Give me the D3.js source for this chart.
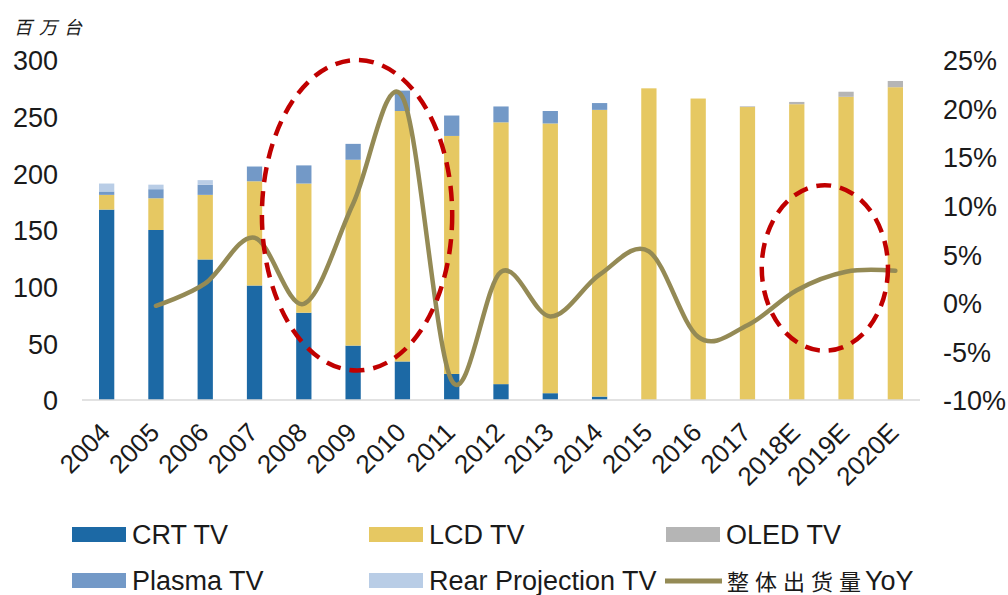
<!DOCTYPE html>
<html>
  <head>
    <meta charset="UTF-8"/>
    <script src="https://d3js.org/d3.v7.min.js"></script>
    <style>
      body{
        margin: 0;
        background-color: white;
      }
      text{
        font-family: "Liberation Sans", Arial, sans-serif;
        fill: #1a1a1a;
      }
      .cjk{
        font-family: "Noto Sans CJK SC", sans-serif;
      }
    </style>
  </head>
  <body>
    <script>
      // data
      const years = ['2004','2005','2006','2007','2008','2009','2010','2011','2012','2013','2014','2015','2016','2017','2018E','2019E','2020E'];
      const crt        = [168, 150, 124, 101, 77, 48, 34, 23, 14, 6, 3, 0, 0, 0, 0, 0, 0];
      const lcd        = [13, 28, 57, 92, 114, 164, 221, 210, 231, 238, 253, 275, 266, 258.5, 261, 267.5, 276];
      const oled       = [0, 0, 0, 0, 0, 0, 0, 0, 0, 0, 0, 0, 0, 0.6, 2, 4.5, 5.5];
      const plasma     = [3, 8, 9, 13, 16, 14, 18, 18, 14, 11, 6, 0, 0, 0, 0, 0, 0];
      const rearProj   = [7, 4, 4, 0.5, 0, 0, 0, 0, 0, 0, 0, 0, 0, 0, 0, 0, 0];
      // YoY starts at 2005
      const yoyYears   = years.slice(1);
      const yoy        = [-0.3, 2.0, 6.7, -0.1, 10.2, 21.2, -8.0, 3.2, -1.4, 2.9, 5.3, -3.5, -2.3, 1.3, 3.2, 3.3];
      const leftTicks  = [0, 50, 100, 150, 200, 250, 300];
      const rightTicks = [-10, -5, 0, 5, 10, 15, 20, 25];

      const seriesNames = ['CRT TV', 'LCD TV', 'OLED TV', 'Plasma TV', 'Rear Projection TV'];
      const seriesVals  = [crt, lcd, oled, plasma, rearProj];
      const colors = {
        'CRT TV': '#1c69a5',
        'LCD TV': '#e6c862',
        'OLED TV': '#b5b5b5',
        'Plasma TV': '#7399c7',
        'Rear Projection TV': '#b9cde6'
      };
      const lineColor = '#948a55';
      const red = '#c00000';

      const width = 1008, height = 595;
      const plotLeft = 82, plotRight = 920, plotTop = 60, plotBottom = 400;

      const svg = d3.select('body').append('svg')
                    .attr('width', width)
                    .attr('height', height);

      const x = d3.scaleBand()
                  .domain(years)
                  .range([plotLeft, plotRight])
                  .paddingInner(0.69)
                  .paddingOuter(0.345);
      const xc = (d) => x(d) + x.bandwidth() / 2;
      // index scale, used for the annotation rings
      const xi = d3.scaleLinear().domain([0, years.length - 1]).range([xc(years[0]), xc(years[years.length - 1])]);

      const yL = d3.scaleLinear().domain([0, 300]).range([plotBottom, plotTop]);
      const yR = d3.scaleLinear().domain([-10, 25]).range([plotBottom, plotTop]);

      // stack order from bottom: CRT, LCD, OLED, Plasma, Rear projection
      const table = years.map((y, i) => {
        const row = {year: y};
        seriesNames.forEach((s, j) => row[s] = seriesVals[j][i]);
        return row;
      });
      const stacked = d3.stack().keys(seriesNames)(table);

      svg.append('g')
         .selectAll('g')
         .data(stacked)
         .enter()
         .append('g')
         .attr('fill', (d) => colors[d.key])
         .selectAll('rect')
         .data((d) => d)
         .enter()
         .append('rect')
         .attr('x', (d) => x(d.data.year))
         .attr('width', x.bandwidth())
         .attr('y', (d) => yL(d[1]))
         .attr('height', (d) => yL(d[0]) - yL(d[1]));

      // x axis line
      svg.append('line')
         .attr('x1', plotLeft).attr('x2', plotRight)
         .attr('y1', plotBottom).attr('y2', plotBottom)
         .attr('stroke', '#d9d9d9')
         .attr('stroke-width', 1.5);

      // left axis
      const leftAxis = svg.append('g')
         .attr('transform', 'translate(' + (plotLeft - 20) + ',0)')
         .call(d3.axisLeft(yL).tickValues(leftTicks).tickSize(0).tickPadding(4));
      leftAxis.select('.domain').remove();
      leftAxis.selectAll('text')
         .style('font-size', '27px')
         .attr('dy', '0.36em')
         .style('fill', '#1a1a1a');

      // right axis
      const rightAxis = svg.append('g')
         .attr('transform', 'translate(' + (plotRight + 20) + ',0)')
         .call(d3.axisRight(yR).tickValues(rightTicks).tickSize(0).tickPadding(3).tickFormat((d) => d + '%'));
      rightAxis.select('.domain').remove();
      rightAxis.selectAll('text')
         .style('font-size', '27px')
         .attr('dy', '0.36em')
         .style('fill', '#1a1a1a');

      // category labels, rotated
      svg.append('g')
         .selectAll('text')
         .data(years)
         .enter()
         .append('text')
         .attr('transform', (d) => 'translate(' + (xc(d) + 5) + ',' + 434 + ') rotate(-45)')
         .attr('text-anchor', 'end')
         .style('font-size', '26px')
         .text((d) => d);

      // unit label
      svg.append('text')
         .attr('class', 'cjk')
         .attr('x', 14)
         .attr('y', 34)
         .style('font-size', '18px')
         .style('letter-spacing', '7px')
         .style('font-style', 'italic')
         .text('百万台');

      // YoY line
      const line = d3.line()
                     .x((d, i) => xc(yoyYears[i]))
                     .y((d) => yR(d))
                     .curve(d3.curveCatmullRom.alpha(0));
      svg.append('path')
         .datum(yoy)
         .attr('d', line)
         .attr('fill', 'none')
         .attr('stroke', lineColor)
         .attr('stroke-width', 4.5)
         .attr('stroke-linecap', 'round');

      // red dashed rings
      const rings = [
        {cx: xi(5.08), cy: yL(163), rx: xi(1.93) - xi(0), ry: yL(0) - yL(137)},
        {cx: xi(14.57), cy: yL(116.5), rx: xi(1.28) - xi(0), ry: yL(0) - yL(73)}
      ];
      svg.append('g')
         .selectAll('ellipse')
         .data(rings)
         .enter()
         .append('ellipse')
         .attr('cx', (d) => d.cx)
         .attr('cy', (d) => d.cy)
         .attr('rx', (d) => d.rx)
         .attr('ry', (d) => d.ry)
         .attr('fill', 'none')
         .attr('stroke', red)
         .attr('stroke-width', 4.5)
         .attr('stroke-dasharray', '15 9');

      // legend
      const legend = [
        {name: 'CRT TV', x: 72, y: 535, type: 'box'},
        {name: 'LCD TV', x: 369, y: 535, type: 'box'},
        {name: 'OLED TV', x: 666, y: 535, type: 'box'},
        {name: 'Plasma TV', x: 72, y: 581, type: 'box'},
        {name: 'Rear Projection TV', x: 369, y: 581, type: 'box'},
        {name: 'YoY', x: 665, y: 581, type: 'line'}
      ];
      const lg = svg.append('g')
                    .selectAll('g')
                    .data(legend)
                    .enter()
                    .append('g')
                    .attr('transform', (d) => 'translate(' + d.x + ',' + d.y + ')');

      lg.filter((d) => d.type === 'box')
        .append('rect')
        .attr('x', 0).attr('y', -8)
        .attr('width', 54).attr('height', 15)
        .attr('fill', (d) => colors[d.name]);
      lg.filter((d) => d.type === 'box')
        .append('text')
        .attr('x', 60)
        .attr('y', 9)
        .style('font-size', '27px')
        .text((d) => d.name);

      const lineItem = lg.filter((d) => d.type === 'line');
      lineItem.append('line')
        .attr('x1', 0).attr('x2', 57)
        .attr('y1', 0).attr('y2', 0)
        .attr('stroke', lineColor)
        .attr('stroke-width', 5);
      const lt = lineItem.append('text')
        .attr('x', 62)
        .attr('y', 9)
        .style('font-size', '27px');
      lt.append('tspan')
        .attr('class', 'cjk')
        .style('font-size', '22px')
        .style('letter-spacing', '6px')
        .text('整体出货量');
      lt.append('tspan')
        .attr('dx', -2)
        .text('YoY');
    </script>
  </body>
</html>
